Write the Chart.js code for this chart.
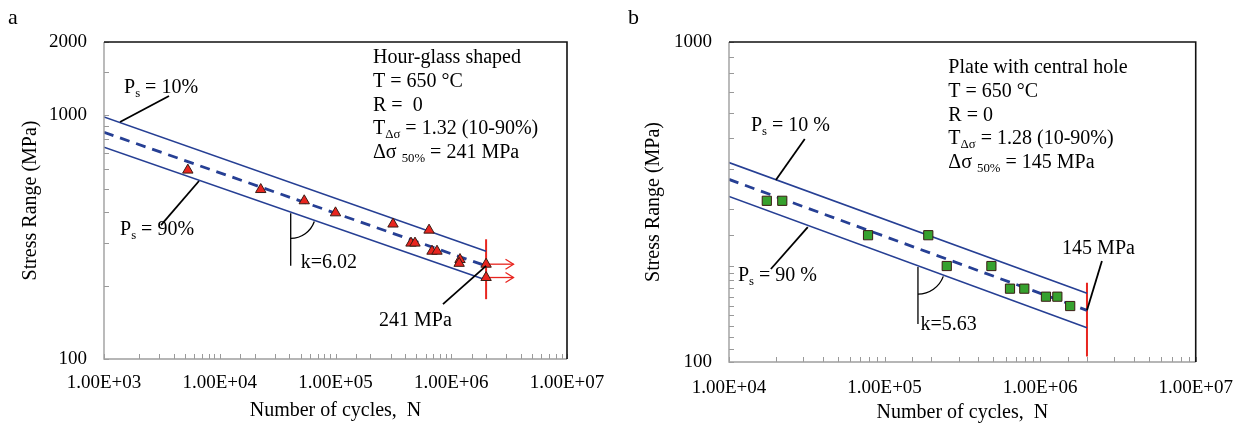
<!DOCTYPE html>
<html><head><meta charset="utf-8">
<script src="https://cdn.jsdelivr.net/npm/chart.js@4/dist/chart.umd.min.js"></script>
<style>
html,body{margin:0;padding:0;background:#fff;}
#wrap{position:relative;width:1248px;height:426px;overflow:hidden;background:#fff;}
.pane{position:absolute;top:0;height:426px;}
canvas{display:block;}
</style></head><body>
<div id="wrap">
<div class="pane" style="left:0;width:620px"><canvas id="ca" width="620" height="426" style="width:620px;height:426px"></canvas></div>
<div class="pane" style="left:620px;width:628px"><canvas id="cb" width="628" height="426" style="width:628px;height:426px"></canvas></div>
</div>
<script>
const FONT = '"Liberation Serif", "Times New Roman", serif';

// ---------- Panel a : hour-glass shaped ----------
const aCycles = [5300, 22600, 53700, 100000, 314000, 643000, 449000, 486000, 682000, 753000, 1190000, 1170000];
const aStress = [596, 496, 446, 398, 358, 338, 299, 299, 277, 277, 256, 247];
const aRunoutCycles = [2000000, 2000000];
const aRunoutStress = [245, 216];
const aLineCycles = [1000, 2000000];
const aUpper = [985, 277];
const aMedian = [852, 241];
const aLower = [740, 211];
const aLimitCycles = [2000000, 2000000];
const aLimitStress = [176, 310];
const aArrowEnd = [3450000, 3450000];
const aXTickValues = [1e3, 1e4, 1e5, 1e6, 1e7];
const aXTickLabels = ['1.00E+03', '1.00E+04', '1.00E+05', '1.00E+06', '1.00E+07'];
const aYTickValues = [100, 1000, 2000];
const aYTickLabels = ['100', '1000', '2000'];

// ---------- Panel b : plate with central hole ----------
const bCycles = [17500, 22000, 78300, 191000, 251000, 486000, 640000, 791000, 1090000, 1290000, 1560000];
const bStress = [319, 319, 249, 249, 199.5, 199.5, 169.5, 169.5, 160, 160, 149.6];
const bLineCycles = [10000, 2000000];
const bUpper = [420, 164];
const bMedian = [372, 145];
const bLower = [329, 128];
const bLimitCycles = [2000000, 2000000];
const bLimitStress = [104, 177];
const bXTickValues = [1e4, 1e5, 1e6, 1e7];
const bXTickLabels = ['1.00E+04', '1.00E+05', '1.00E+06', '1.00E+07'];
const bYTickValues = [100, 1000];
const bYTickLabels = ['100', '1000'];

// ---------- annotations (data coordinates) ----------
const aNotes = {
  letter: 'a',
  block: {at: [210900, 1719], lines: [
    [['Hour-glass shaped']],
    [['T = 650 °C']],
    [['R =  0']],
    [['T'], ['Δσ', 1], [' = 1.32 (10-90%)']],
    [['Δσ '], ['50%', 1], [' = 241 MPa']]
  ]},
  labels: [
    {at: [1489, 1294], parts: [['P'], ['s', 1], [' = 10%']]},
    {at: [1375, 338], parts: [['P'], ['s', 1], [' = 90%']]},
    {at: [50000, 247.6], parts: [['k=6.02']]},
    {at: [237600, 143], parts: [['241 MPa']]}
  ],
  leaders: [
    [[3644, 1200], [1375, 939]],
    [[3108, 354.6], [6618, 537.6]],
    [[848600, 168], [2000000, 241]]
  ],
  slope: {top: [41020, 396], bottom: [41020, 241.3], r: 25}
};
const bNotes = {
  letter: 'b',
  block: {at: [257000, 829.5], lines: [
    [['Plate with central hole']],
    [['T = 650 °C']],
    [['R = 0']],
    [['T'], ['Δσ', 1], [' = 1.28 (10-90%)']],
    [['Δσ '], ['50%', 1], [' = 145 MPa']]
  ]},
  labels: [
    {at: [13840, 548], parts: [['P'], ['s', 1], [' = 10 %']]},
    {at: [11420, 185.7], parts: [['P'], ['s', 1], [' = 90 %']]},
    {at: [170200, 130.5], parts: [['k=5.63']]},
    {at: [1384000, 225.4], parts: [['145 MPa']]}
  ],
  leaders: [
    [[30690, 497.6], [20010, 370.5]],
    [[18590, 195.3], [32090, 264]],
    [[2495000, 206.8], [2000000, 145]]
  ],
  slope: {top: [163900, 198], bottom: [163900, 131.5], r: 27}
};

const NAVY = '#263f94';
const RED = '#e8251f';
const pts = (xs, ys) => xs.map((x, i) => ({x: x, y: ys[i]}));

function drawParts(ctx, x, y, parts, size) {
  let cx = x;
  ctx.textAlign = 'left';
  ctx.textBaseline = 'middle';
  for (const p of parts) {
    const sub = p[1] === 1;
    const fs = sub ? size * 0.64 : size;
    ctx.font = fs + 'px ' + FONT;
    ctx.fillText(p[0], cx, sub ? y + size * 0.3 : y);
    cx += ctx.measureText(p[0]).width;
  }
}

function decoPlugin(notes, arrowData) {
  return {
    id: 'deco',
    afterDatasetsDraw(chart) {
      const ctx = chart.ctx, xs = chart.scales.x, ys = chart.scales.y, a = chart.chartArea;
      const P = p => [xs.getPixelForValue(p[0]), ys.getPixelForValue(p[1])];
      ctx.save();
      // inward tick marks
      ctx.strokeStyle = '#999';
      ctx.lineWidth = 1;
      xs.ticks.forEach(t => {
        const px = Math.round(xs.getPixelForValue(t.value)) + 0.5;
        ctx.beginPath(); ctx.moveTo(px, a.bottom); ctx.lineTo(px, a.bottom - 5); ctx.stroke();
      });
      ys.ticks.forEach(t => {
        const py = Math.round(ys.getPixelForValue(t.value)) + 0.5;
        ctx.beginPath(); ctx.moveTo(a.left, py); ctx.lineTo(a.left + 5, py); ctx.stroke();
      });
      // axes: grey left/bottom, black top/right
      ctx.lineWidth = 1.4;
      ctx.strokeStyle = '#9e9e9e';
      ctx.beginPath(); ctx.moveTo(a.left, a.top); ctx.lineTo(a.left, a.bottom); ctx.lineTo(a.right, a.bottom); ctx.stroke();
      ctx.strokeStyle = '#111';
      ctx.lineWidth = 1.6;
      ctx.beginPath(); ctx.moveTo(a.left, a.top); ctx.lineTo(a.right, a.top); ctx.lineTo(a.right, a.bottom); ctx.stroke();

      // arrow heads for run-outs
      if (arrowData) {
        ctx.strokeStyle = RED; ctx.lineWidth = 1.3;
        arrowData.forEach(pr => {
          const e = P(pr[1]);
          ctx.beginPath();
          ctx.moveTo(e[0] - 8, e[1] - 5); ctx.lineTo(e[0], e[1]); ctx.lineTo(e[0] - 8, e[1] + 5);
          ctx.stroke();
        });
      }
      // leader lines
      ctx.strokeStyle = '#000'; ctx.lineWidth = 1.8;
      notes.leaders.forEach(l => {
        const p1 = P(l[0]), p2 = P(l[1]);
        ctx.beginPath(); ctx.moveTo(p1[0], p1[1]); ctx.lineTo(p2[0], p2[1]); ctx.stroke();
      });
      // slope marker
      const s = notes.slope, t0 = P(s.top), b0 = P(s.bottom);
      ctx.lineWidth = 1.3;
      ctx.beginPath(); ctx.moveTo(t0[0], t0[1]); ctx.lineTo(b0[0], b0[1]); ctx.stroke();
      const lo = chart.data.datasets.find(d => d.label === 'lower').data;
      const l1 = P([lo[0].x, lo[0].y]), l2 = P([lo[1].x, lo[1].y]);
      const ang = Math.atan2(l2[1] - l1[1], l2[0] - l1[0]);
      ctx.beginPath(); ctx.arc(t0[0], t0[1], s.r, ang, Math.PI / 2); ctx.stroke();
      // text
      ctx.fillStyle = '#000';
      notes.labels.forEach(lb => { const p = P(lb.at); drawParts(ctx, p[0], p[1], lb.parts, 20); });
      const bp = P(notes.block.at);
      notes.block.lines.forEach((ln, i) => drawParts(ctx, bp[0], bp[1] + i * 23.7, ln, 20));
      // panel letter
      ctx.font = '22px ' + FONT; ctx.textAlign = 'left'; ctx.textBaseline = 'middle';
      ctx.fillText(notes.letter, 8, 18);
      ctx.restore();
    }
  };
}

function makeChart(id, cfg) {
  const lookup = (vals, labs) => v => {
    const i = vals.findIndex(t => Math.abs(t - v) / t < 1e-6);
    return i >= 0 ? labs[i] : '';
  };
  const datasets = [
    {label: 'tests', data: cfg.points, pointStyle: cfg.markerStyle, pointRadius: cfg.markerRadius,
     backgroundColor: cfg.markerColor, borderColor: '#3a1c14', borderWidth: 1, showLine: false},
    {label: 'upper', data: cfg.upper, showLine: true, borderColor: NAVY, borderWidth: 1.6, pointRadius: 0},
    {label: 'median', data: cfg.median, showLine: true, borderColor: NAVY, borderWidth: 2.8, borderDash: [10, 7], pointRadius: 0},
    {label: 'lower', data: cfg.lower, showLine: true, borderColor: NAVY, borderWidth: 1.6, pointRadius: 0},
    {label: 'limit', data: cfg.limit, showLine: true, borderColor: RED, borderWidth: 2, pointRadius: 0}
  ];
  (cfg.arrows || []).forEach((ar, i) => datasets.push({label: 'arrow' + i, data: ar.map(p => ({x: p[0], y: p[1]})),
    showLine: true, borderColor: RED, borderWidth: 1.3, pointRadius: 0}));
  return new Chart(document.getElementById(id), {
    type: 'scatter',
    data: {datasets: datasets},
    options: {
      responsive: false, animation: false, devicePixelRatio: 1,
      layout: {padding: {left: 0, top: cfg.area.top, right: cfg.area.right, bottom: 0}},
      plugins: {legend: {display: false}, tooltip: {enabled: false}},
      events: [],
      scales: {
        x: {type: 'logarithmic', position: 'bottom', min: cfg.xMin, max: cfg.xMax,
          grid: {display: false, drawTicks: false}, border: {display: false},
          ticks: {autoSkip: false, maxRotation: 0, minRotation: 0, padding: cfg.xPad, color: '#000',
            font: {family: FONT, size: 19}, callback: lookup(cfg.xTickValues, cfg.xTickLabels)},
          title: {display: true, text: 'Number of cycles,  N', color: '#000', font: {family: FONT, size: 20},
            padding: {top: 0, bottom: cfg.xTitlePad}},
          afterFit: sc => { sc.height = cfg.area.xh; }},
        y: {type: 'logarithmic', position: 'left', min: cfg.yMin, max: cfg.yMax,
          grid: {display: false, drawTicks: false}, border: {display: false},
          ticks: {autoSkip: false, padding: 17, color: '#000',
            font: {family: FONT, size: 19}, callback: lookup(cfg.yTickValues, cfg.yTickLabels)},
          title: {display: true, text: 'Stress Range (MPa)', color: '#000', font: {family: FONT, size: 20},
            padding: {top: cfg.yTitlePad, bottom: 0}},
          afterFit: sc => { sc.width = cfg.area.yw; }}
      }
    },
    plugins: [decoPlugin(cfg.notes, cfg.arrows)]
  });
}

makeChart('ca', {
  points: pts(aCycles, aStress).concat(pts(aRunoutCycles, aRunoutStress)),
  markerStyle: 'triangle', markerRadius: 6, markerColor: RED,
  upper: pts(aLineCycles, aUpper), median: pts(aLineCycles, aMedian), lower: pts(aLineCycles, aLower),
  limit: pts(aLimitCycles, aLimitStress),
  arrows: aRunoutStress.map((s, i) => [[aRunoutCycles[i], s], [aArrowEnd[i], s]]),
  xMin: 1e3, xMax: 1e7, yMin: 100, yMax: 2000,
  xTickValues: aXTickValues, xTickLabels: aXTickLabels, yTickValues: aYTickValues, yTickLabels: aYTickLabels,
  area: {top: 42, right: 53, yw: 104, xh: 67}, xPad: 12.6, xTitlePad: 3, yTitlePad: 19,
  notes: aNotes
});

makeChart('cb', {
  points: pts(bCycles, bStress),
  markerStyle: 'rect', markerRadius: 6.5, markerColor: '#36a12e',
  upper: pts(bLineCycles, bUpper), median: pts(bLineCycles, bMedian), lower: pts(bLineCycles, bLower),
  limit: pts(bLimitCycles, bLimitStress),
  arrows: null,
  xMin: 1e4, xMax: 1e7, yMin: 100, yMax: 1000,
  xTickValues: bXTickValues, xTickLabels: bXTickLabels, yTickValues: bYTickValues, yTickLabels: bYTickLabels,
  area: {top: 42, right: 51, yw: 109, xh: 64}, xPad: 15, xTitlePad: 1, yTitlePad: 22,
  notes: bNotes
});
</script>
</body></html>
